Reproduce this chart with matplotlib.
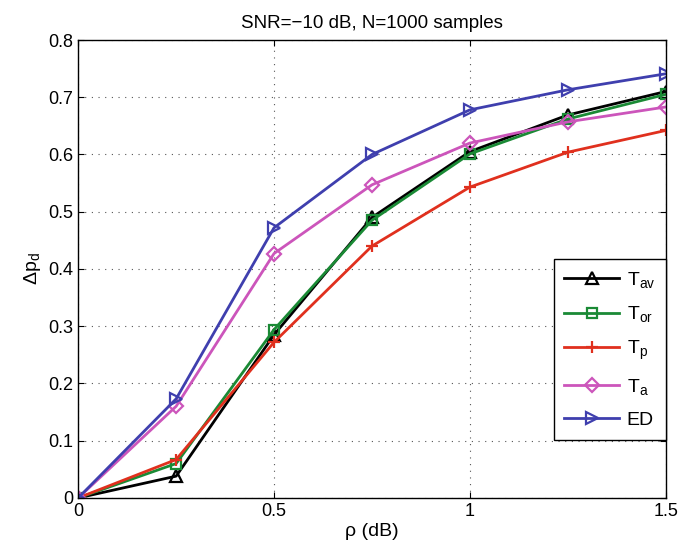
import matplotlib
matplotlib.use("Agg")
import matplotlib.pyplot as plt

plt.rcParams['font.family'] = ['Liberation Sans', 'DejaVu Sans']
plt.rcParams['mathtext.fontset'] = 'custom'
plt.rcParams['mathtext.rm'] = 'Liberation Sans'
plt.rcParams['mathtext.it'] = 'Liberation Sans'

rho = [0, 0.25, 0.5, 0.75, 1.0, 1.25, 1.5]
t_av = [0, 0.038, 0.285, 0.490, 0.605, 0.669, 0.710]
t_or = [0, 0.060, 0.294, 0.485, 0.601, 0.662, 0.705]
t_p = [0, 0.067, 0.272, 0.440, 0.543, 0.604, 0.642]
t_a = [0, 0.160, 0.427, 0.547, 0.620, 0.657, 0.683]
ed = [0, 0.173, 0.472, 0.600, 0.678, 0.713, 0.741]

series = [
    (t_av, r'$\mathregular{T_{av}}$', 'black', '^', 8),
    (t_or, r'$\mathregular{T_{or}}$', '#1a8a35', 's', 7),
    (t_p, r'$\mathregular{T_{p}}$', '#e0301e', '+', 9),
    (t_a, r'$\mathregular{T_{a}}$', '#cc55bb', 'D', 7),
    (ed, 'ED', '#3f3fae', '>', 9),
]

fig = plt.figure(figsize=(6.8, 5.52), dpi=100)
ax = fig.add_axes([0.115, 0.098, 0.864, 0.8295])

for y, lab, col, mk, ms in series:
    ax.plot(rho, y, color=col, marker=mk, markersize=ms, markerfacecolor='none',
            markeredgecolor=col, markeredgewidth=1.6, linewidth=2, label=lab)

ax.set_xlim(0, 1.5)
ax.set_ylim(0, 0.8)
ax.set_xticks([0, 0.5, 1, 1.5])
ax.set_xticklabels(['0', '0.5', '1', '1.5'])
ax.set_yticks([0, 0.1, 0.2, 0.3, 0.4, 0.5, 0.6, 0.7, 0.8])
ax.set_yticklabels(['0', '0.1', '0.2', '0.3', '0.4', '0.5', '0.6', '0.7', '0.8'])
ax.tick_params(direction='in', labelsize=13, top=True, right=True, length=4)
ax.grid(True, linestyle=(0, (1, 5)), color='#555555', linewidth=0.8)
for s in ax.spines.values():
    s.set_linewidth(1.0)

ax.set_xlabel(r'ρ (dB)', fontsize=14, labelpad=2)
ax.set_ylabel(r'$\mathregular{\Delta p_d}$', fontsize=14, labelpad=4)
ax.set_title('SNR=\u221210 dB, N=1000 samples', fontsize=13.5, pad=9)

leg = ax.legend(loc='lower right', bbox_to_anchor=(1.0, 0.127), fontsize=14,
                fancybox=False, edgecolor='black', framealpha=1,
                handlelength=2.8, labelspacing=0.75, borderpad=0.55,
                handletextpad=0.4, borderaxespad=0)
leg.get_frame().set_linewidth(1.0)

fig.savefig('out.png', dpi=100)
